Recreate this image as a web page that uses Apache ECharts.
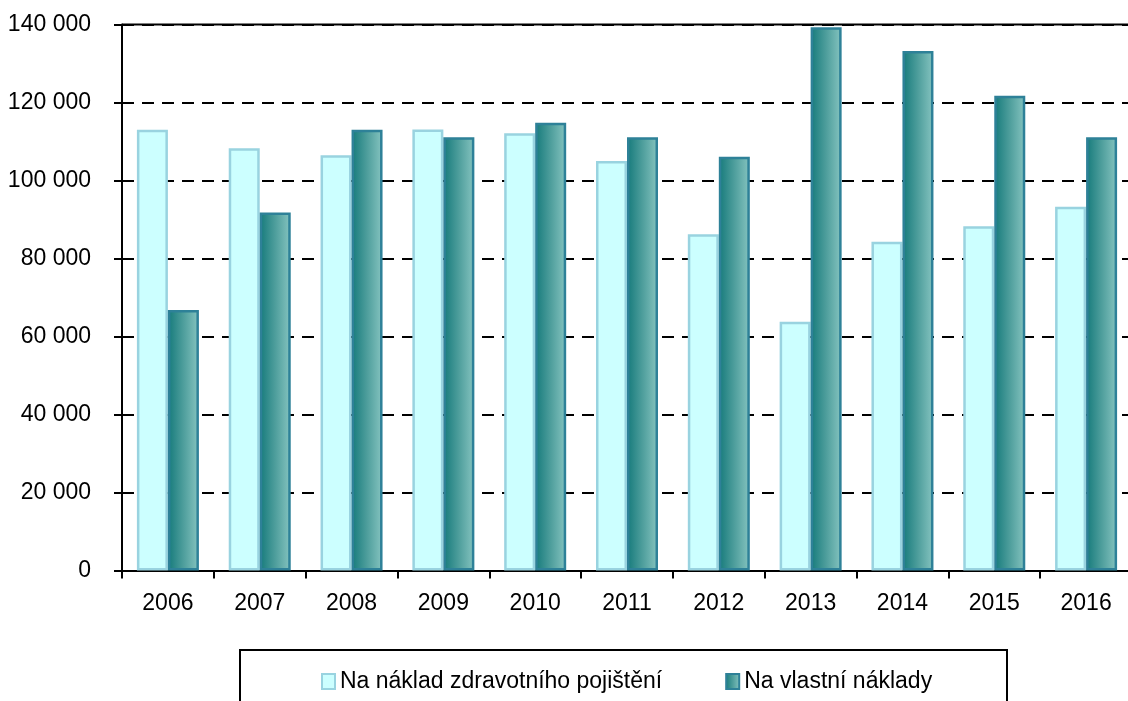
<!DOCTYPE html>
<html>
<head>
<meta charset="utf-8">
<script src="https://cdn.jsdelivr.net/npm/echarts@6/dist/echarts.min.js"></script>
<style>
html,body{margin:0;padding:0;background:#fff;}
#chart{width:1128px;height:701px;}
</style>
</head>
<body>
<div id="chart"></div>
<script>
var categories = ['2006','2007','2008','2009','2010','2011','2012','2013','2014','2015','2016'];
var seriesNames = ['Na náklad zdravotního pojištění', 'Na vlastní náklady'];
var insuranceValues = [113000, 108300, 106500, 113100, 112100, 105000, 86200, 63800, 84300, 88300, 93300];
var ownCostValues = [66800, 91800, 113000, 111100, 114800, 111100, 106100, 139300, 133200, 121700, 111100];
var yMin = 0, yMax = 140000, yStep = 20000;

var FONT = "'Liberation Sans', Arial, sans-serif";
var FS = 23;
var chart = echarts.init(document.getElementById('chart'), null, {renderer: 'canvas'});

function fmt(v) {
  return String(v).replace(/\B(?=(\d{3})+(?!\d))/g, ' ');
}

var option = {
  animation: false,
  backgroundColor: '#ffffff',
  grid: {left: 122, right: -4, top: 24.5, bottom: 130.5, show: false, outerBoundsMode: 'none', containLabel: false},
  legend: {
    data: seriesNames,
    left: 316,
    top: 665,
    itemWidth: 13,
    itemHeight: 15,
    itemGap: 63,
    textStyle: {fontFamily: FONT, fontSize: FS, color: '#000'},
    icon: 'rect'
  },
  graphic: [{
    type: 'rect',
    shape: {x: 240, y: 650, width: 767, height: 80},
    style: {fill: 'none', stroke: '#000', lineWidth: 2},
    z: 100
  }, {
    type: 'line',
    shape: {x1: 122, y1: 24.5, x2: 1132, y2: 24.5},
    style: {stroke: '#000', lineWidth: 2},
    z: 1
  }],
  xAxis: {
    type: 'category',
    data: categories,
    axisLine: {show: true, lineStyle: {color: '#000', width: 2}},
    axisTick: {show: true, length: 8, lineStyle: {color: '#000', width: 2}},
    axisLabel: {fontFamily: FONT, fontSize: FS, color: '#000', margin: 22},
    splitLine: {show: false}
  },
  yAxis: [{
    type: 'value',
    min: yMin, max: yMax, interval: yStep,
    axisLine: {show: true, lineStyle: {color: '#000', width: 2}},
    axisTick: {show: true, length: 8, lineStyle: {color: '#000', width: 2}},
    axisLabel: {fontFamily: FONT, fontSize: FS, color: '#000', margin: 31, formatter: fmt},
    splitLine: {show: true, lineStyle: {color: '#000', width: 2, type: [12, 8]}}
  }, {
    type: 'value',
    position: 'left',
    offset: 0,
    min: yMin, max: yMax, interval: yStep,
    axisLine: {show: false},
    axisTick: {show: true, inside: true, length: 10, lineStyle: {color: '#000', width: 2}},
    axisLabel: {show: false},
    splitLine: {show: false}
  }],
  series: [{
    name: seriesNames[0],
    type: 'bar',
    data: insuranceValues,
    barWidth: 31,
    barGap: '0%',
    itemStyle: {color: '#ccffff', borderColor: '#99d3e0', borderWidth: 2.5},
    z: 3
  }, {
    name: seriesNames[1],
    type: 'bar',
    data: ownCostValues,
    barWidth: 31,
    barGap: '0%',
    itemStyle: {
      color: new echarts.graphic.LinearGradient(0, 0, 1, 0, [
        {offset: 0, color: '#157a7b'},
        {offset: 0.5, color: '#4e9e9c'},
        {offset: 1, color: '#86c4c0'}
      ]),
      borderColor: '#2e8198',
      borderWidth: 2.5
    },
    z: 3
  }]
};
chart.setOption(option);
</script>
</body>
</html>
